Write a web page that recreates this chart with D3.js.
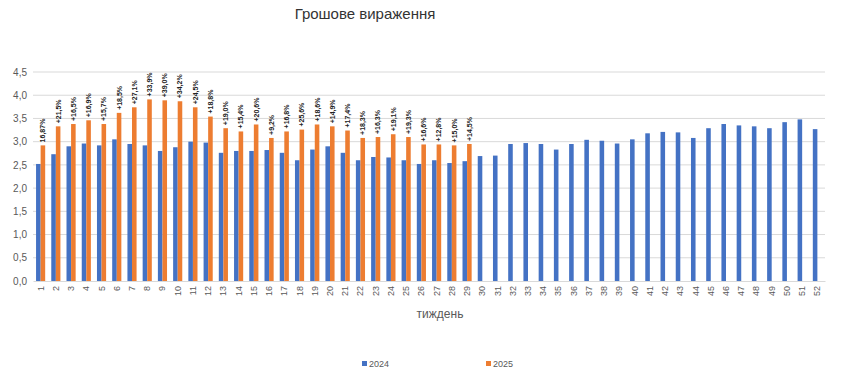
<!DOCTYPE html>
<html><head><meta charset="utf-8">
<script src="https://cdn.jsdelivr.net/npm/d3@7"></script>
<style>
html,body{margin:0;padding:0;background:#fff;}
svg{display:block;font-family:"Liberation Sans","Open Sans",Arial,sans-serif;}
</style></head>
<body>
<script>
const weeks = d3.range(1, 53).map(String);
const values2024 = [2.52,2.73,2.90,2.96,2.92,3.05,2.95,2.92,2.80,2.88,3.00,2.98,2.76,2.80,2.80,2.82,2.76,2.60,2.83,2.90,2.76,2.60,2.67,2.66,2.60,2.52,2.60,2.54,2.58,2.69,2.70,2.95,2.97,2.95,2.83,2.95,3.04,3.02,2.96,3.05,3.18,3.21,3.20,3.08,3.29,3.38,3.35,3.33,3.29,3.42,3.48,3.27];
const values2025 = [2.92,3.33,3.38,3.46,3.38,3.62,3.74,3.91,3.89,3.87,3.74,3.54,3.29,3.22,3.37,3.08,3.22,3.26,3.37,3.33,3.24,3.08,3.10,3.16,3.10,2.94,2.94,2.92,2.95];
const labels2025 = ["16,87%","+21,5%","+16,5%","+16,9%","+15,7%","+18,5%","+27,1%","+33,9%","+39,0%","+34,2%","+24,5%","+18,8%","+19,0%","+15,4%","+20,6%","+9,2%","+16,8%","+25,6%","+18,6%","+14,9%","+17,4%","+18,3%","+16,3%","+19,1%","+19,3%","+16,6%","+12,8%","+15,0%","+14,5%"];
const seriesNames = ["2024","2025"];
const yTicks = [0,0.5,1,1.5,2,2.5,3,3.5,4,4.5];
const colors = ["#4472C4","#ED7D31"];

const W = 850, H = 378;
const m = {left: 33, right: 25, top: 72, bottom: 97};
const svg = d3.select("body").append("svg").attr("width", W).attr("height", H);

const x = d3.scaleBand().domain(weeks).range([m.left, W - m.right]).paddingInner(0.4).paddingOuter(0.2);
const x1 = d3.scaleBand().domain(seriesNames).range([0, x.bandwidth()]);
const y = d3.scaleLinear().domain([0, 4.5]).range([H - m.bottom, m.top]);

const fmt = v => d3.format(".1f")(v).replace(".", ",");

// gridlines
svg.append("g").selectAll("line").data(yTicks.filter(d => d > 0)).join("line")
  .attr("x1", m.left).attr("x2", W - m.right)
  .attr("y1", d => y(d)).attr("y2", d => y(d))
  .attr("stroke", "#d9d9d9").attr("stroke-width", 1);

// y axis labels
const yAxis = svg.append("g").attr("transform", `translate(${m.left},0)`)
  .call(d3.axisLeft(y).tickValues(yTicks).tickFormat(fmt).tickSize(0).tickPadding(6));
yAxis.select(".domain").remove();
yAxis.selectAll("text").attr("fill", "#595959").style("font-size", "10px");

// bars
const g24 = svg.append("g");
g24.selectAll("rect").data(values2024).join("rect")
  .attr("x", (d, i) => x(weeks[i]) + x1("2024"))
  .attr("width", x1.bandwidth())
  .attr("y", d => y(d)).attr("height", d => y(0) - y(d))
  .attr("fill", colors[0]);
const g25 = svg.append("g");
g25.selectAll("rect").data(values2025).join("rect")
  .attr("x", (d, i) => x(weeks[i]) + x1("2025"))
  .attr("width", x1.bandwidth())
  .attr("y", d => y(d)).attr("height", d => y(0) - y(d))
  .attr("fill", colors[1]);

// data labels
svg.append("g").selectAll("text").data(values2025).join("text")
  .attr("transform", (d, i) => `translate(${x(weeks[i]) + x1("2025") + x1.bandwidth()/2 + 2.5},${y(d) - 3}) rotate(-90)`)
  .attr("text-anchor", "start")
  .style("font-size", "7px").style("font-weight", "bold").attr("fill", "#222")
  .text((d, i) => labels2025[i]);

// x axis
const xAxis = svg.append("g").attr("transform", `translate(0,${y(0)})`)
  .call(d3.axisBottom(x).tickSize(0).tickPadding(0));
xAxis.select(".domain").attr("stroke", "#d9d9d9");
xAxis.selectAll("text")
  .attr("transform", "rotate(-90)")
  .attr("text-anchor", "end")
  .attr("dx", "-5px").attr("dy", "3px")
  .attr("y", 0).attr("x", 0)
  .attr("fill", "#595959").style("font-size", "9px");

// axis title
svg.append("text").attr("x", (m.left + W - m.right)/2 + 11).attr("y", 318)
  .attr("text-anchor", "middle").attr("fill", "#595959").style("font-size", "12px").text("тиждень");

// title
svg.append("text").attr("x", 365).attr("y", 19).attr("text-anchor", "middle")
  .attr("fill", "#333").style("font-size", "15px").text("Грошове вираження");

// legend
const legX = [362, 486];
const leg = svg.append("g").selectAll("g").data(seriesNames).join("g")
  .attr("transform", (d, i) => `translate(${legX[i]},365)`);
leg.append("rect").attr("x", 0).attr("y", -4).attr("width", 5).attr("height", 5).attr("fill", (d, i) => colors[i]);
leg.append("text").attr("x", 7).attr("y", 1.5).attr("fill", "#595959").style("font-size", "9px").text(d => d);
</script>
</body></html>
